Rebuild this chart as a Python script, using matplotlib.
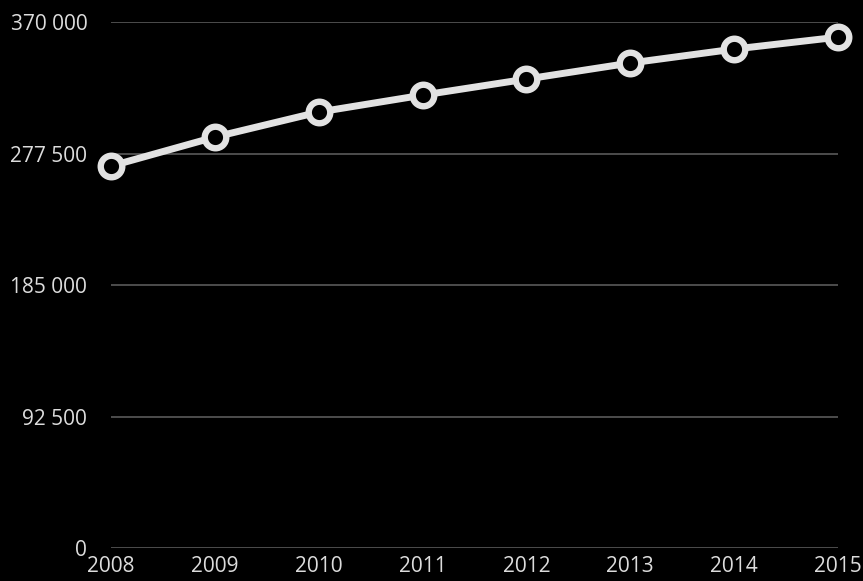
import numpy as np
import matplotlib.pyplot as plt

# Valores
years = [2008, 2009, 2010, 2011, 2012, 2013, 2014, 2015]
values = [268700, 289100, 306700, 318600, 329900, 341200, 351000, 359400]
y_ticks = [0, 92500, 185000, 277500, 370000]
y_labels = ['0', '92 500', '185 000', '277 500', '370 000']

plt.rcParams['font.family'] = ['Open Sans', 'DejaVu Sans']

fig = plt.figure(figsize=(8.63, 5.81), dpi=100, facecolor='black')
ax = fig.add_axes([0.1286, 0.0568, 0.8424, 0.9052], facecolor='black')

for yt in y_ticks:
    ax.axhline(yt, color='#5a5a5a', linewidth=1.2, zorder=1)

ax.plot(years, values, color='#e2e2e2', linewidth=5,
        marker='o', markersize=15.5, markerfacecolor='black',
        markeredgecolor='#e2e2e2', markeredgewidth=4.6, zorder=3, clip_on=False)

ax.set_xlim(2008, 2015)
ax.set_ylim(0, 370000)
ax.set_xticks(years)
ax.set_xticklabels([str(y) for y in years])
ax.set_yticks(y_ticks)
ax.set_yticklabels(y_labels)
ax.tick_params(axis='both', length=0, colors='#dcdcdc', labelsize=15)
ax.tick_params(axis='y', pad=17)
ax.tick_params(axis='x', pad=6)
for s in ax.spines.values():
    s.set_visible(False)

fig.savefig('out.png', dpi=100, facecolor='black')
